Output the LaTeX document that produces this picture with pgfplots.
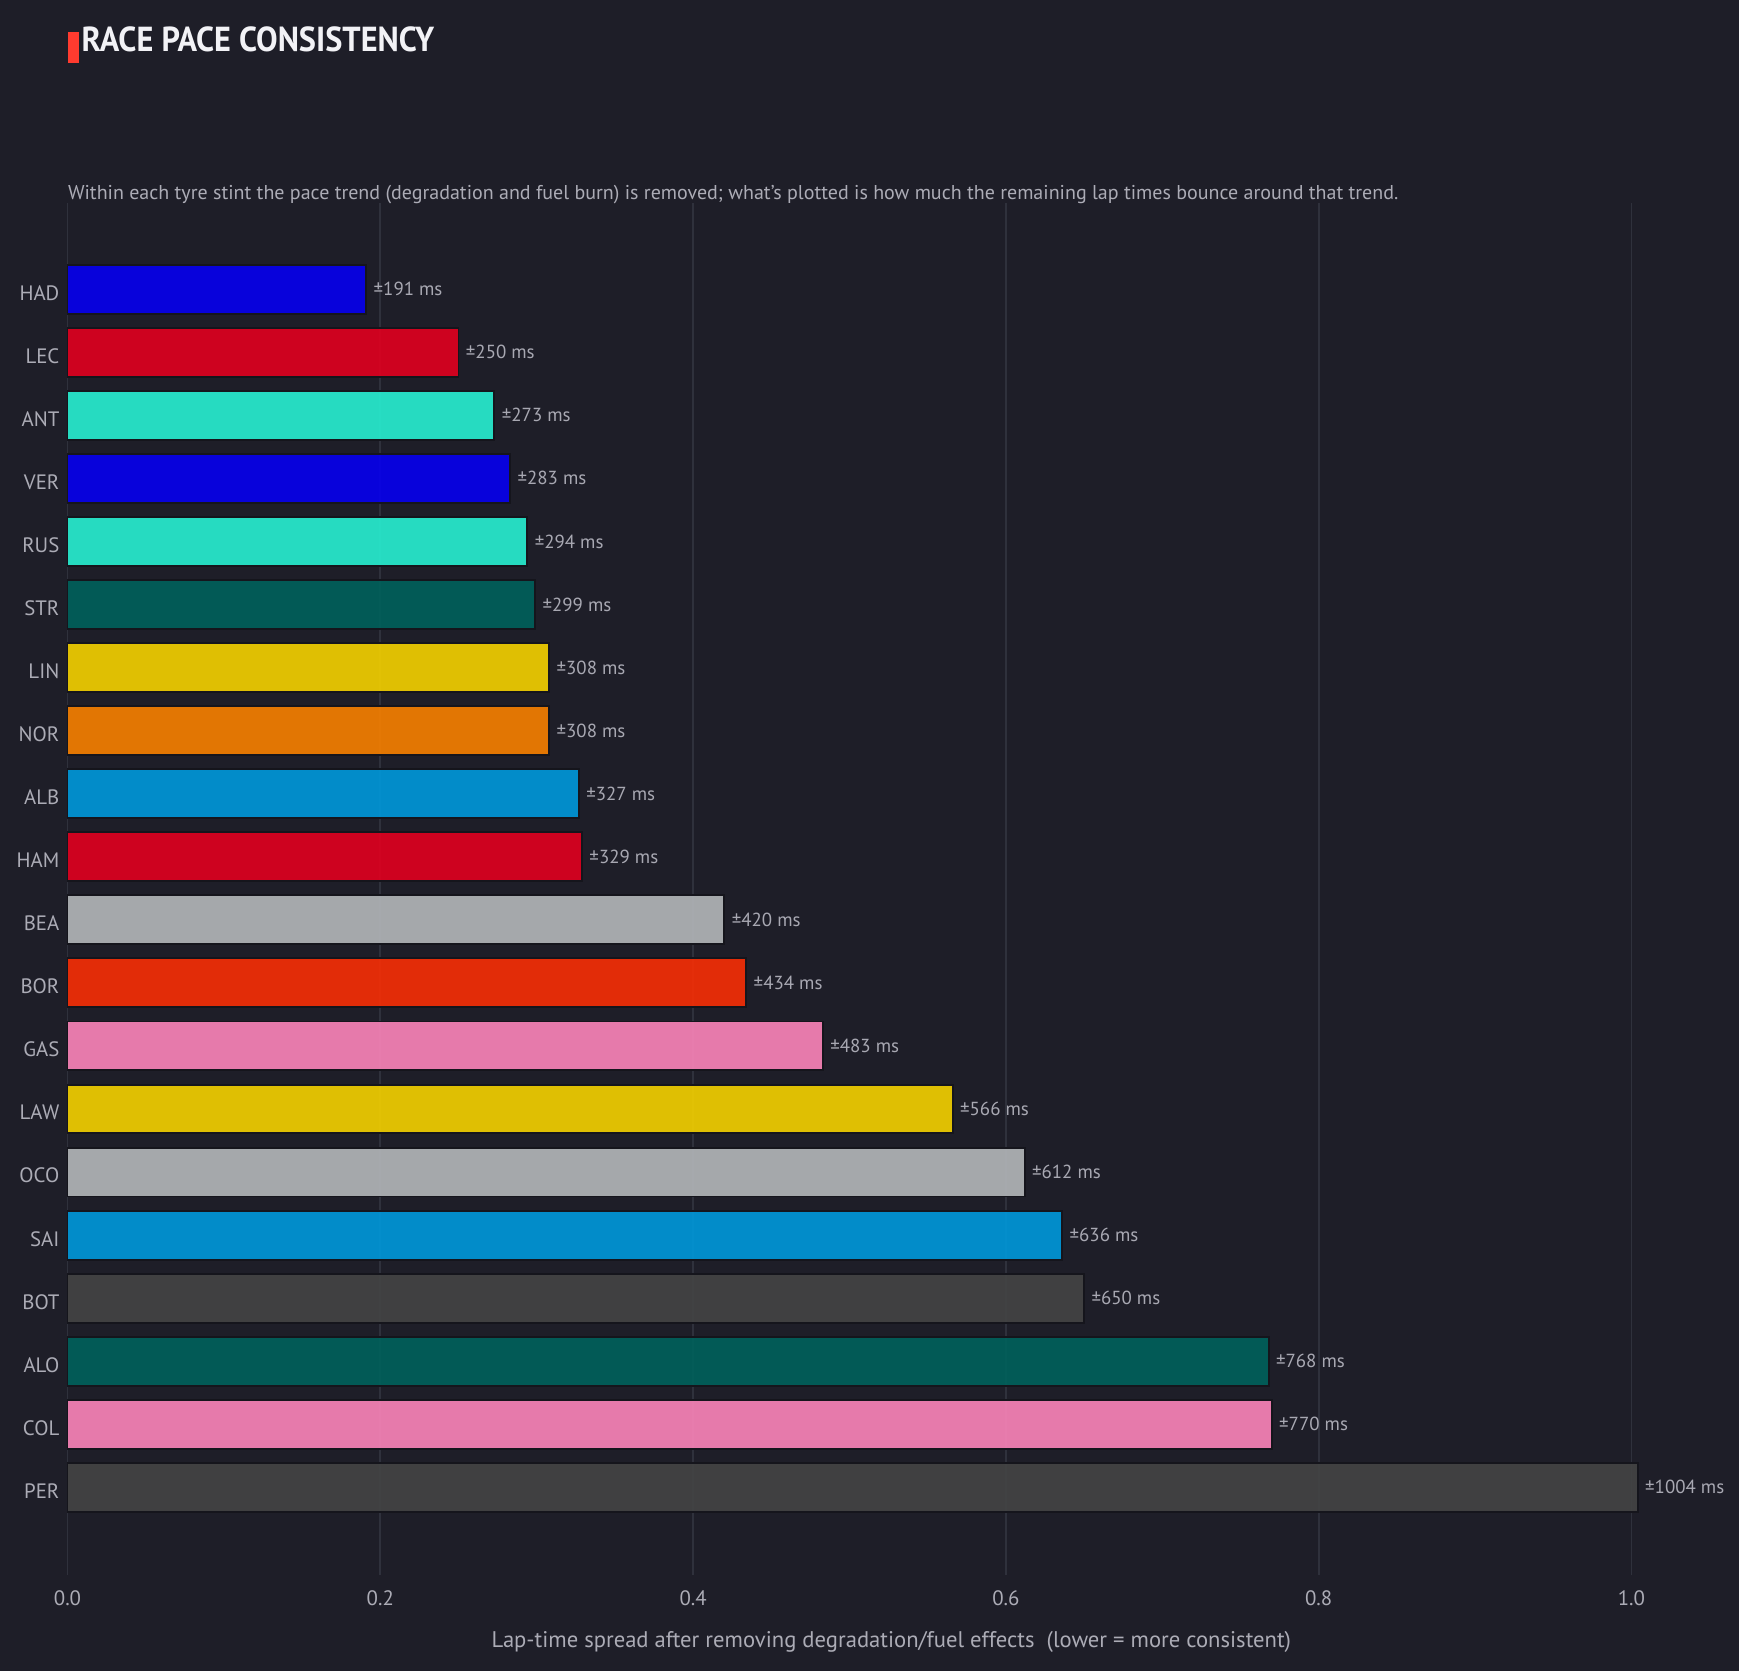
\documentclass[border=0pt]{standalone}
\usepackage{fontspec}
\setmainfont{PT Sans}
\usepackage{graphicx}
\usepackage{pgfplots}
\pgfplotsset{compat=1.18}
\definecolor{bg}{HTML}{1E1E28}
\definecolor{gridc}{HTML}{2F313C}
\definecolor{edgec}{HTML}{15151C}
\definecolor{tickc}{HTML}{ACACB6}
\definecolor{valc}{HTML}{B8B8C2}
\definecolor{titlec}{HTML}{F2F2F6}
\definecolor{accent}{HTML}{FF3B2F}
\definecolor{rb}{HTML}{0600EF}
\definecolor{fer}{HTML}{E2001F}
\definecolor{mer}{HTML}{27F0D2}
\definecolor{ast}{HTML}{00615C}
\definecolor{yel}{HTML}{F5D100}
\definecolor{mcl}{HTML}{F88000}
\definecolor{wil}{HTML}{0099DB}
\definecolor{haas}{HTML}{B4B7BA}
\definecolor{sau}{HTML}{F82E05}
\definecolor{alp}{HTML}{FC85BA}
\definecolor{cad}{HTML}{444444}
\begin{document}
\begin{tikzpicture}
\fill[bg] (0,0) rectangle (626.04pt,601.56pt);
\fill[accent] (24.3pt,601.56pt-11.5pt) rectangle (28.3pt,601.56pt-22.7pt);
\node[anchor=base west, inner sep=0pt, text=titlec, font=\fontsize{12.5}{14}\selectfont\bfseries] at (29.2pt,601.56pt-18.7pt) {\scalebox{0.93}[1]{RACE PACE CONSISTENCY}};
\node[anchor=base west, inner sep=0pt, text=tickc, font=\fontsize{7.2}{9}\selectfont] at (24.3pt,601.56pt-71.9pt) {Within each tyre stint the pace trend (degradation and fuel burn) is removed; what's plotted is how much the remaining lap times bounce around that trend.};
\node[anchor=center, inner sep=0pt, text=tickc, font=\fontsize{8.15}{9}\selectfont] at (320.9pt,601.56pt-591.2pt) {Lap-time spread after removing degradation/fuel effects\ \ (lower = more consistent)};
\begin{axis}[
  at={(24.3pt,34.56pt)}, anchor=south west,
  scale only axis, width=596.8pt, height=494pt,
  xmin=0, xmax=1.06, ymin=-1.37, ymax=20.39, y dir=reverse,
  axis line style={draw=none},
  xtick={0,0.2,0.4,0.6,0.8,1.0},
  xticklabels={0.0,0.2,0.4,0.6,0.8,1.0},
  ytick={0,...,19},
  yticklabels={HAD,LEC,ANT,VER,RUS,STR,LIN,NOR,ALB,HAM,BEA,BOR,GAS,LAW,OCO,SAI,BOT,ALO,COL,PER},
  xmajorgrids, grid style={color=gridc, line width=0.6pt},
  major tick length=0pt,
  tick label style={font=\fontsize{7.5}{9}\selectfont, text=tickc},
  xticklabel style={yshift=-2pt},
  yticklabel style={xshift=0.6pt, yshift=-1.3pt},
  xbar, bar width=17.6pt, bar shift=0pt,
  nodes near coords, point meta=explicit symbolic,
  every node near coord/.append style={font=\fontsize{6.8}{8}\selectfont, text=valc, anchor=west, xshift=-1pt},
  clip=false,
]
\addplot[fill=rb, fill opacity=0.9, draw=edgec, line width=0.7pt] coordinates {(0.191,0) [±191 ms]};
\addplot[fill=fer, fill opacity=0.9, draw=edgec, line width=0.7pt] coordinates {(0.250,1) [±250 ms]};
\addplot[fill=mer, fill opacity=0.9, draw=edgec, line width=0.7pt] coordinates {(0.273,2) [±273 ms]};
\addplot[fill=rb, fill opacity=0.9, draw=edgec, line width=0.7pt] coordinates {(0.283,3) [±283 ms]};
\addplot[fill=mer, fill opacity=0.9, draw=edgec, line width=0.7pt] coordinates {(0.294,4) [±294 ms]};
\addplot[fill=ast, fill opacity=0.9, draw=edgec, line width=0.7pt] coordinates {(0.299,5) [±299 ms]};
\addplot[fill=yel, fill opacity=0.9, draw=edgec, line width=0.7pt] coordinates {(0.308,6) [±308 ms]};
\addplot[fill=mcl, fill opacity=0.9, draw=edgec, line width=0.7pt] coordinates {(0.308,7) [±308 ms]};
\addplot[fill=wil, fill opacity=0.9, draw=edgec, line width=0.7pt] coordinates {(0.327,8) [±327 ms]};
\addplot[fill=fer, fill opacity=0.9, draw=edgec, line width=0.7pt] coordinates {(0.329,9) [±329 ms]};
\addplot[fill=haas, fill opacity=0.9, draw=edgec, line width=0.7pt] coordinates {(0.420,10) [±420 ms]};
\addplot[fill=sau, fill opacity=0.9, draw=edgec, line width=0.7pt] coordinates {(0.434,11) [±434 ms]};
\addplot[fill=alp, fill opacity=0.9, draw=edgec, line width=0.7pt] coordinates {(0.483,12) [±483 ms]};
\addplot[fill=yel, fill opacity=0.9, draw=edgec, line width=0.7pt] coordinates {(0.566,13) [±566 ms]};
\addplot[fill=haas, fill opacity=0.9, draw=edgec, line width=0.7pt] coordinates {(0.612,14) [±612 ms]};
\addplot[fill=wil, fill opacity=0.9, draw=edgec, line width=0.7pt] coordinates {(0.636,15) [±636 ms]};
\addplot[fill=cad, fill opacity=0.9, draw=edgec, line width=0.7pt] coordinates {(0.650,16) [±650 ms]};
\addplot[fill=ast, fill opacity=0.9, draw=edgec, line width=0.7pt] coordinates {(0.768,17) [±768 ms]};
\addplot[fill=alp, fill opacity=0.9, draw=edgec, line width=0.7pt] coordinates {(0.770,18) [±770 ms]};
\addplot[fill=cad, fill opacity=0.9, draw=edgec, line width=0.7pt] coordinates {(1.004,19) [±1004 ms]};
\end{axis}
\end{tikzpicture}
\end{document}
